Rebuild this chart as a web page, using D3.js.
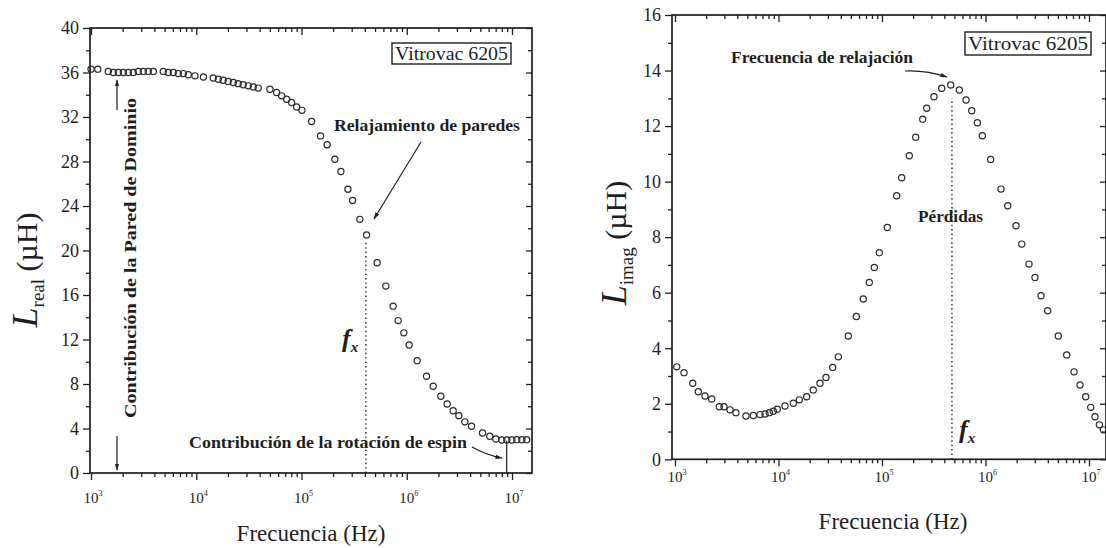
<!DOCTYPE html>
<html><head><meta charset="utf-8">
<script src="https://cdn.jsdelivr.net/npm/d3@7"></script>
<style>body{margin:0;background:#fff}svg{display:block}</style>
</head><body>
<svg id="c" width="1106" height="548"></svg>
<script>
// ---------- data ----------
const xTickExponents = [3, 4, 5, 6, 7];
const realYTicks = [0, 4, 8, 12, 16, 20, 24, 28, 32, 36, 40];
const imagYTicks = [0, 2, 4, 6, 8, 10, 12, 14, 16];

const realFreq = [1000,1160,1460,1630,1820,2030,2260,2520,2810,3140,3500,3910,4860,5420,6050,6750,7530,8400,9720,11700,
  14500,16200,18000,20100,22500,25000,27900,31200,34800,38800,50100,58000,64800,72300,80600,89900,101000,
  124700,151800,175300,207500,236600,276000,305700,358700,415000,523400,632800,742500,828000,937800,1054000,1256000,
  1542000,1782000,2108000,2420000,2760000,3126000,3564000,4124000,5246000,6152000,7015000,8000000,8926000,9960000,
  11100000,12400000,13800000];
const realL = [36.3,36.3,36.1,36.0,36.0,36.0,36.0,36.0,36.1,36.1,36.1,36.1,36.1,36.0,36.0,35.9,35.9,35.8,35.7,35.6,
  35.5,35.4,35.3,35.2,35.1,35.0,34.9,34.8,34.7,34.6,34.5,34.2,33.9,33.6,33.3,32.9,32.6,
  31.6,30.3,29.5,28.2,27.1,25.5,24.5,22.8,21.4,18.9,16.8,15.0,13.7,12.6,11.5,10.1,
  8.7,7.8,6.9,6.2,5.6,5.15,4.6,4.2,3.6,3.3,3.06,2.97,2.97,2.97,3.0,3.0,3.0];

const imagFreq = [1040,1222,1483,1679,1949,2263,2681,2974,3397,3882,4851,5712,6627,7413,8151,8907,9730,11550,13900,15890,
  18710,21680,25170,28770,33400,37840,47250,56470,65920,75360,84310,94190,112500,138700,155000,183500,211700,247400,270400,317800,
  377400,461300,558500,648300,736200,833900,931800,1122000,1412000,1640000,1973000,2240000,2633000,3008000,3438000,3988000,
  5050000,6091000,7167000,8188000,9295000,10390000,11430000,12590000,13760000];
const imagL = [3.33,3.12,2.74,2.43,2.28,2.17,1.89,1.89,1.78,1.68,1.56,1.58,1.61,1.63,1.68,1.73,1.80,1.92,2.02,2.14,
  2.25,2.50,2.74,2.95,3.31,3.69,4.44,5.14,5.77,6.37,6.91,7.44,8.35,9.49,10.14,10.93,11.60,12.25,12.64,13.06,
  13.36,13.48,13.30,12.94,12.55,12.12,11.65,10.80,9.73,9.13,8.41,7.75,7.03,6.55,5.89,5.35,
  4.44,3.76,3.15,2.68,2.25,1.87,1.53,1.24,1.06];

const fxReal = 409000, fxImag = 474000, spinMarkFreq = 8.9e6;
const sampleLabel = "Vitrovac 6205";
const xAxisTitle = "Frecuencia (Hz)";

// ---------- drawing ----------
const svg = d3.select("#c");
const INK = "#1e1e1e";
const SERIF = "'Liberation Serif','DejaVu Serif',serif";

const defs = svg.append("defs");
defs.append("marker").attr("id","ah").attr("viewBox","0 0 10 10").attr("refX",9).attr("refY",5)
  .attr("markerWidth",6).attr("markerHeight",6).attr("orient","auto-start-reverse")
  .append("path").attr("d","M0,2 L10,5 L0,8 Z").attr("fill",INK);

function panel(cfg){
  const g = svg.append("g");
  const x = d3.scaleLog().domain([1e3,1e7]).range(cfg.xr);
  const y = d3.scaleLinear().domain(cfg.yd).range(cfg.yr);
  const left = cfg.fx0, right = cfg.fx1, top = y(cfg.yd[1]), bottom = y(cfg.yd[0]);
  const majors = xTickExponents.map(e => Math.pow(10,e));
  const minors = [];
  for (let e = 2; e <= 7; e++) for (let m = 2; m <= 9; m++) {
    const v = m*Math.pow(10,e), px = x(v);
    if (px > left+1 && px < right-1) minors.push(v);
  }
  const yMinors = [];
  for (let i = 0; i < cfg.yticks.length-1; i++) yMinors.push((cfg.yticks[i]+cfg.yticks[i+1])/2);

  function ax(axisFn, scale, vals, size, tr){
    const a = g.append("g").attr("transform", tr)
      .call(axisFn(scale).tickValues(vals).tickSizeInner(size).tickSizeOuter(0).tickFormat(""));
    a.select(".domain").remove();
    a.selectAll("line").attr("stroke",INK).attr("stroke-width",1.3);
  }
  ax(d3.axisBottom, x, majors, 7, `translate(0,${bottom})`);
  ax(d3.axisBottom, x, minors, 4, `translate(0,${bottom})`);
  ax(d3.axisTop, x, majors, -7, `translate(0,${top})`);
  ax(d3.axisTop, x, minors, -4, `translate(0,${top})`);
  ax(d3.axisLeft, y, cfg.yticks, 7, `translate(${left},0)`);
  ax(d3.axisLeft, y, yMinors, 4, `translate(${left},0)`);
  ax(d3.axisRight, y, cfg.yticks, -6, `translate(${right},0)`);
  ax(d3.axisRight, y, yMinors, -4, `translate(${right},0)`);

  g.append("rect").attr("x",left).attr("y",top).attr("width",right-left).attr("height",bottom-top)
    .attr("fill","none").attr("stroke",INK).attr("stroke-width",1.7);

  // y tick labels
  g.selectAll(".yl").data(cfg.yticks).join("text")
    .attr("x", left-11).attr("y", d => y(d)).attr("dy","0.35em")
    .attr("text-anchor","end").attr("font-family",SERIF).attr("font-size",18).attr("fill",INK)
    .text(d => d);
  // x tick labels 10^n
  const xl = g.selectAll(".xl").data(xTickExponents).join("text")
    .attr("x", d => x(Math.pow(10,d))+2).attr("y", cfg.xlabY)
    .attr("text-anchor","middle").attr("font-family",SERIF).attr("font-size",15).attr("fill",INK);
  xl.append("tspan").text("10");
  xl.append("tspan").attr("dy",-7).attr("font-size",8).text(d => d);

  // points
  g.selectAll(".pt").data(cfg.freq.map((f,i)=>[f,cfg.vals[i]])).join("circle")
    .attr("cx", d => x(d[0])).attr("cy", d => y(d[1])).attr("r",3.1)
    .attr("fill","none").attr("stroke","#2a2a2a").attr("stroke-width",1.2);

  // dotted f_x line
  g.append("line").attr("x1",x(cfg.fx)).attr("x2",x(cfg.fx)).attr("y1",y(0)).attr("y2",y(cfg.fxTop))
    .attr("stroke",INK).attr("stroke-width",1.4).attr("stroke-dasharray","1.4,3");

  // y title
  const yt = g.append("text").attr("transform",`translate(${cfg.ytX},${cfg.ytY}) rotate(-90)`)
    .attr("text-anchor","middle").attr("font-family",SERIF).attr("fill",INK);
  yt.append("tspan").attr("font-style","italic").attr("font-size",36).text("L");
  yt.append("tspan").attr("font-size",19).attr("dy",7).text(cfg.sub);
  yt.append("tspan").attr("font-size",30).attr("dy",-7).text(" (\u00B5H)");

  // x title
  g.append("text").attr("x",cfg.xtX).attr("y",cfg.xtY).attr("text-anchor","middle")
    .attr("font-family",SERIF).attr("font-size",23).attr("fill",INK).text(xAxisTitle);

  // sample box
  const b = cfg.box;
  g.append("rect").attr("x",b[0]).attr("y",b[1]).attr("width",b[2]).attr("height",b[3])
    .attr("fill","#fff").attr("stroke",INK).attr("stroke-width",1.4);
  g.append("text").attr("x",b[0]+b[2]/2).attr("y",b[1]+b[3]/2).attr("dy","0.35em").attr("text-anchor","middle")
    .attr("font-family",SERIF).attr("font-size",18).attr("fill",INK)
    .attr("textLength",b[2]-6).attr("lengthAdjust","spacingAndGlyphs").text(sampleLabel);

  // f_x label
  const fl = g.append("text").attr("x",cfg.fxLab[0]).attr("y",cfg.fxLab[1])
    .attr("font-family",SERIF).attr("font-style","italic").attr("font-weight","bold").attr("fill",INK);
  fl.append("tspan").attr("font-size",26).text("f");
  fl.append("tspan").attr("font-size",15).attr("dy",5).text("x");
  return {g,x,y};
}

function bold(g, txt, xx, yy, len, rot){
  const t = g.append("text").attr("font-family",SERIF).attr("font-weight","bold").attr("font-size",16)
    .attr("fill",INK).attr("textLength",len).attr("lengthAdjust","spacingAndGlyphs").text(txt);
  if (rot) t.attr("transform",`translate(${xx},${yy}) rotate(-90)`);
  else t.attr("x",xx).attr("y",yy);
  return t;
}
function arrow(g, d){
  g.append("path").attr("d",d).attr("fill","none").attr("stroke",INK).attr("stroke-width",1.2)
    .attr("marker-end","url(#ah)");
}

// left panel
const L = panel({xr:[91,512], fx0:90, fx1:532, yd:[0,40], yr:[473,28], yticks:realYTicks,
  freq:realFreq, vals:realL, fx:fxReal, fxTop:20.8, xlabY:503, sub:"real", ytX:37, ytY:270,
  xtX:311, xtY:541, box:[392,43,119,21], fxLab:[342,347]});
bold(L.g, "Contribución de la Pared de Dominio", 136, 418, 320, true);
arrow(L.g, "M117,110 L117,80");
arrow(L.g, "M117,436 L117,470");
bold(L.g, "Relajamiento de paredes", 334, 131, 186, false);
arrow(L.g, "M421,142 L374,219");
bold(L.g, "Contribución de la rotación de espin", 189, 448, 278, false);
arrow(L.g, "M472,447 Q486,455 502,458");
L.g.append("line").attr("x1",L.x(spinMarkFreq)).attr("x2",L.x(spinMarkFreq)).attr("y1",L.y(0)).attr("y2",L.y(2.9))
  .attr("stroke",INK).attr("stroke-width",1.2);

// right panel
const R = panel({xr:[675,1089], fx0:672, fx1:1106, yd:[0,16], yr:[459.3,15], yticks:imagYTicks,
  freq:imagFreq, vals:imagL, fx:fxImag, fxTop:13.0, xlabY:482, sub:"imag", ytX:626, ytY:243,
  xtX:893, xtY:529, box:[965,32,126,23], fxLab:[959,438]});
bold(R.g, "Frecuencia de relajación", 731, 63, 182, false);
arrow(R.g, "M905,71 Q926,70 947,77");
bold(R.g, "Pérdidas", 918, 222, 65, false);
</script>
</body></html>
